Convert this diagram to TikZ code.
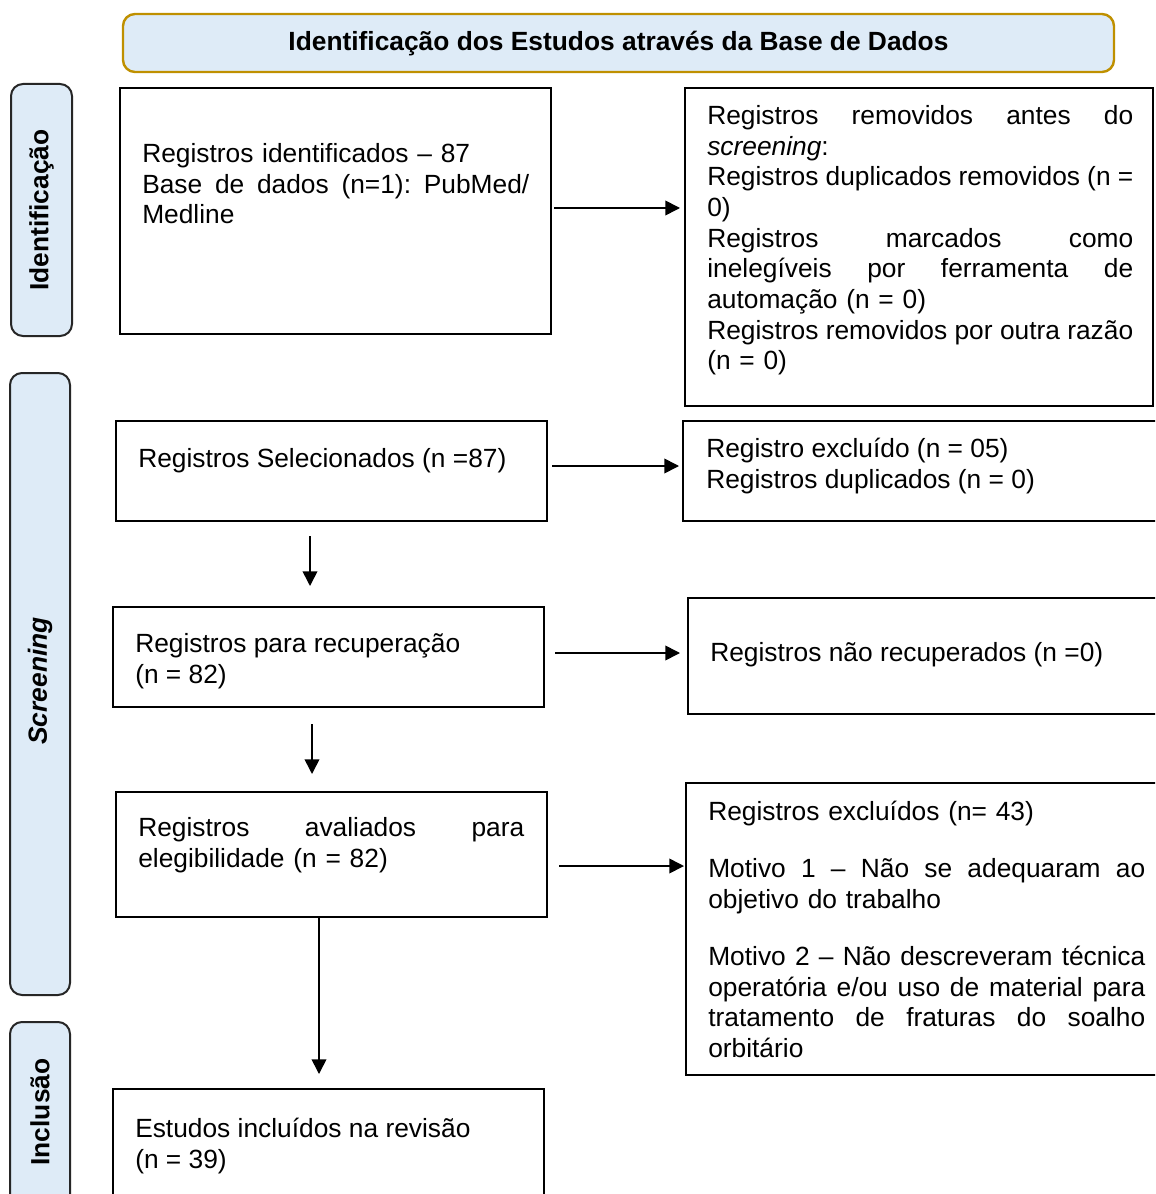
\documentclass[tikz,border=0pt]{standalone}
\usepackage{fontspec}
\setmainfont{Liberation Sans}
\usetikzlibrary{arrows.meta,calc,fit}
\definecolor{lblue}{RGB}{222,235,247}
\definecolor{goldb}{RGB}{191,144,0}
\begin{document}
\begin{tikzpicture}[x=0.75pt,y=-0.75pt,
 box/.style={draw=black,line width=1.5pt,inner sep=0pt},
 side/.style={draw=black!85,fill=lblue,line width=1.5pt,rounded corners=9pt,inner sep=0pt},
 hdrbox/.style={draw=goldb,fill=lblue,line width=1.8pt,rounded corners=9pt,inner sep=0pt},
 txt/.style={inner sep=0pt,anchor=north west,align=left,font=\fontsize{19.75}{23}\selectfont},
 lbl/.style={inner sep=0pt,rotate=90,font=\bfseries\fontsize{19.75}{23}\selectfont},
 arr/.style={line width=1.2pt,-{Triangle[length=11pt,width=11pt]}}]
\clip (0,0) rectangle (1155,1194);
\fill[white] (0,0) rectangle (1155,1194);

% header
\node[hdrbox,fit={(123,14) (1114,72)}] (hdr) {};
\node[inner sep=0pt,font=\bfseries\fontsize{19.75}{23}\selectfont] (hdrt) at ($(hdr.center)+(0,1)$) {Identificação dos Estudos através da Base de Dados};

% side labels
\node[side,fit={(11,84) (72,336)}] (sid) {};
\node[lbl] (sidt) at (sid.center) {Identificação};
\node[side,fit={(10,373) (70,995)}] (ssc) {};
\node[lbl,font=\bfseries\itshape\fontsize{19.75}{23}\selectfont] (ssct) at ($(ssc.center)+(0,-3)$) {Screening};
\node[side,fit={(10,1022) (70,1240)}] (sin) {};
\node[lbl] (sint) at (40,1112) {Inclusão};

% boxes
\node[box,fit={(120,88) (551,334)}] (b1) {};
\node[box,fit={(685,88) (1153,406)}] (r1) {};
\node[box,fit={(116,421) (547,521)}] (b2) {};
\node[box,fit={(683,421) (1175,521)}] (r2) {};
\node[box,fit={(113,607) (544,707)}] (b3) {};
\node[box,fit={(688,598) (1175,714)}] (r3) {};
\node[box,fit={(116,792) (547,917)}] (b4) {};
\node[box,fit={(686,783) (1175,1075)}] (r4) {};
\node[box,fit={(113,1089) (544,1230)}] (b5) {};

% texts
\node[txt,text width=290.25pt] (t1) at (142,143) {Registros identificados – 87\\
Base\hfill de\hfill dados\hfill (n=1):\hfill PubMed/\\
Medline};
\node[txt,text width=319.5pt] (tr1) at (707,105) {Registros\hfill removidos\hfill antes\hfill do\\
\textit{screening}:\\
Registros\hfill duplicados\hfill removidos\hfill (n\hfill =\\
0)\\
Registros\hfill marcados\hfill como\\
inelegíveis\hfill por\hfill ferramenta\hfill de\\
automação (n = 0)\\
Registros\hfill removidos\hfill por\hfill outra\hfill razão\\
(n = 0)};
\node[txt] (t2) at (138,448) {Registros Selecionados (n =87)};
\node[txt] (tr2) at (706,438) {Registro excluído (n = 05)\\
Registros duplicados (n = 0)};
\node[txt] (t3) at (135,633) {Registros para recuperação\\
(n = 82)};
\node[txt] (tr3) at (710,642) {Registros não recuperados (n =0)};
\node[txt,text width=289.5pt] (t4) at (138,817) {Registros\hfill avaliados\hfill para\\
elegibilidade (n = 82)};
\node[txt,text width=327.75pt] (tr4) at (708,801) {Registros excluídos (n= 43)\\[19.8pt]
Motivo\hfill 1\hfill –\hfill Não\hfill se\hfill adequaram\hfill ao\\
objetivo do trabalho\\[19.8pt]
Motivo\hfill 2\hfill –\hfill Não\hfill descreveram\hfill técnica\\
operatória\hfill e/ou\hfill uso\hfill de\hfill material\hfill para\\
tratamento\hfill de\hfill fraturas\hfill do\hfill soalho\\
orbitário};
\node[txt] (t5) at (135,1118) {Estudos incluídos na revisão\\
(n = 39)};

% connectors
\draw[arr] ($(b1.east)+(2,-3)$) -- ($(b1.east -| r1.west)+(-4,-3)$);
\draw[arr] ($(b2.east)+(4,-5)$) -- ($(b2.east -| r2.west)+(-3,-5)$);
\draw[arr] ($(b3.east)+(10,-4)$) -- ($(b3.east -| r3.west)+(-7,-4)$);
\draw[arr] ($(b4.east)+(11,11.5)$) -- ($(b4.east -| r4.west)+(-1,11.5)$);
\draw[arr] ($(b2.south)+(-21.5,14)$) -- ($(b3.north)+(-18.5,-20)$);
\draw[arr] ($(b3.south)+(-16.5,16)$) -- ($(b4.north)+(-19.5,-17)$);
\draw[arr] ($(b4.south)+(-12.5,0)$) -- ($(b5.north)+(-9.5,-14)$);
\end{tikzpicture}
\end{document}
